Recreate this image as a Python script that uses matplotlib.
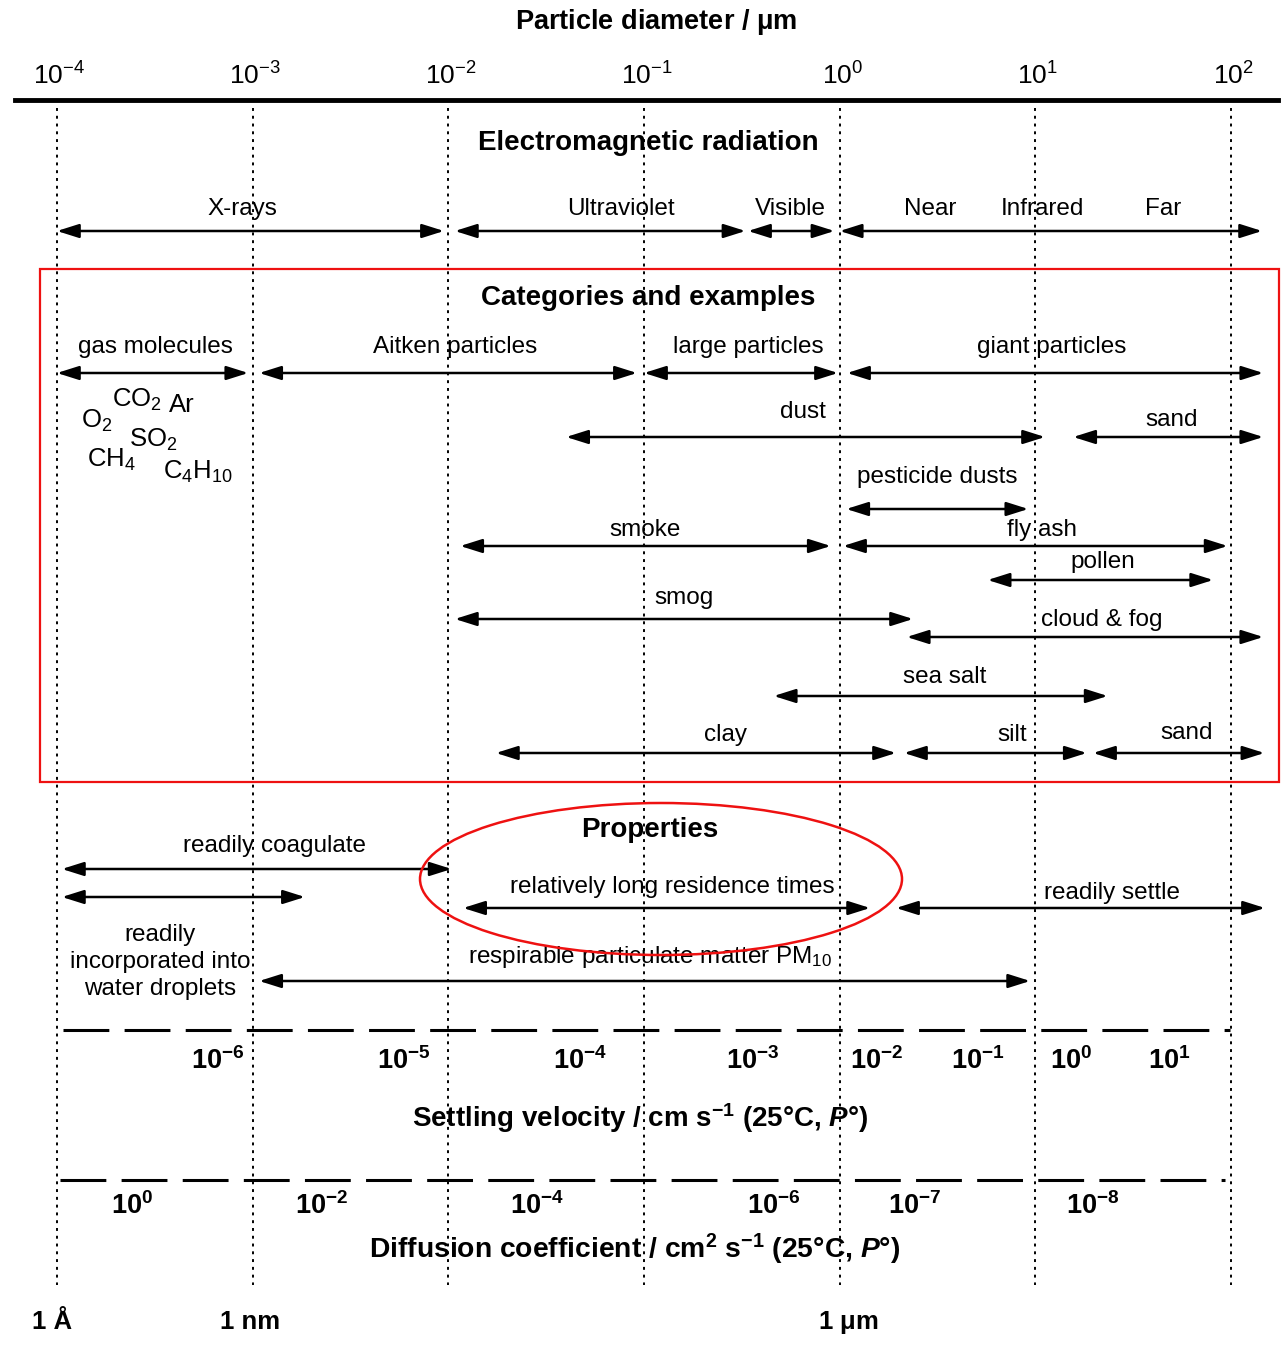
import matplotlib.pyplot as plt
from matplotlib.patches import Rectangle, Ellipse

plt.rcParams['font.family'] = ['Liberation Sans', 'DejaVu Sans']
plt.rcParams['mathtext.fontset'] = 'custom'
plt.rcParams['mathtext.rm'] = 'Liberation Sans'
plt.rcParams['mathtext.it'] = 'Liberation Sans:italic'
plt.rcParams['mathtext.bf'] = 'Liberation Sans:bold'
plt.rcParams['mathtext.bfit'] = 'Liberation Sans:italic:bold'

# --- data (particle diameters in µm) ---
decades = [1e-4, 1e-3, 1e-2, 1e-1, 1e0, 1e1, 1e2]
decade_labels = [r'$10^{-4}$', r'$10^{-3}$', r'$10^{-2}$', r'$10^{-1}$',
                 r'$10^{0}$', r'$10^{1}$', r'$10^{2}$']

# electromagnetic radiation bands
em_lo = [1e-4, 0.0108, 0.34, 1.0]
em_hi = [0.0095, 0.33, 0.94, 144]
em_names = ['X-rays', 'Ultraviolet', 'Visible', 'Near', 'Infrared', 'Far']
em_name_x = [8.9e-4, 0.076, 0.557, 2.89, 10.9, 44.8]

# categories and examples
cat_names = ['gas molecules', 'Aitken particles', 'large particles', 'giant particles',
             'dust', 'sand', 'pesticide dusts', 'smoke', 'fly ash', 'pollen',
             'smog', 'cloud & fog', 'sea salt', 'clay', 'silt', 'sand']
cat_lo = [1e-4, 1.08e-3, 0.10, 1.09, 0.040, 15.6, 1.08, 0.0115, 1.04, 5.7,
          0.0108, 2.2, 0.46, 0.0175, 2.13, 19.7]
cat_hi = [9.5e-4, 0.092, 0.98, 146, 11.2, 146, 9.2, 0.90, 96, 81,
          2.37, 146, 23.4, 1.94, 18.3, 148]
cat_name_x = [3.2e-4, 0.0108, 0.34, 12.1, 0.65, 49.8, 3.14, 0.101, 10.8, 22.1,
              0.16, 21.9, 3.45, 0.26, 7.6, 59.4]

molecules = [r'CO$_2$', 'Ar', r'O$_2$', r'SO$_2$', r'CH$_4$', r'C$_4$H$_{10}$']
molecule_x = [2.55e-4, 4.35e-4, 1.6e-4, 3.1e-4, 1.89e-4, 5.25e-4]

# properties
prop_names = ['readily coagulate', 'readily\nincorporated into\nwater droplets',
              'relatively long residence times', 'readily settle',
              r'respirable particulate matter PM$_{10}$']
prop_lo = [1.06e-4, 1.06e-4, 0.0119, 1.94, 1.08e-3]
prop_hi = [0.0104, 1.85e-3, 1.43, 149, 9.4]
prop_name_x = [1.29e-3, 3.36e-4, 0.14, 24.6, 0.107]

# settling velocity (cm/s) labels placed against diameter
settle_labels = [r'$\mathbf{10^{-6}}$', r'$\mathbf{10^{-5}}$', r'$\mathbf{10^{-4}}$',
                 r'$\mathbf{10^{-3}}$', r'$\mathbf{10^{-2}}$', r'$\mathbf{10^{-1}}$',
                 r'$\mathbf{10^{0}}$', r'$\mathbf{10^{1}}$']
settle_x = [6.65e-4, 5.93e-3, 0.047, 0.36, 1.55, 5.08, 15.2, 48.6]

# diffusion coefficient (cm2/s) labels placed against diameter
diff_labels = [r'$\mathbf{10^{0}}$', r'$\mathbf{10^{-2}}$', r'$\mathbf{10^{-4}}$',
               r'$\mathbf{10^{-6}}$', r'$\mathbf{10^{-7}}$', r'$\mathbf{10^{-8}}$']
diff_x = [2.42e-4, 2.26e-3, 0.0284, 0.461, 2.42, 19.7]

size_marks = ['1 Å', '1 nm', r'1 $\mathbf{\mu}$m']
size_x = [9.4e-5, 9.7e-4, 1.1]

# --- figure ---
fig = plt.figure(figsize=(12.81, 13.54), dpi=100)
ax = fig.add_axes([0, 0, 1, 1])
ax.set_xscale('log')
ax.set_xlim(10 ** -4.291, 10 ** 2.255)
ax.set_ylim(1354, 0)
ax.axis('off')


def arrow(lo, hi, y):
    ax.annotate('', xy=(hi, y), xytext=(lo, y),
                arrowprops=dict(arrowstyle='<|-|>,head_length=0.95,head_width=0.3',
                                mutation_scale=14, color='black', lw=1.8,
                                shrinkA=0, shrinkB=0))


# top axis
ax.text(0.115, 22, r'Particle diameter / $\mathbf{\mu}$m', ha='center', va='center',
        fontsize=19.5, fontweight='bold')
for d, lab in zip(decades, decade_labels):
    ax.text(d * 1.03, 76, lab, ha='center', va='center', fontsize=19)
ax.axhline(100, xmin=15 / 1281, xmax=1278 / 1281, color='black', lw=3.5)
ax.vlines(decades, 108, 1285, colors='black', linestyles=(0, (1.5, 2.5)), lw=1.4)

# electromagnetic radiation
ax.text(0.105, 143, 'Electromagnetic radiation', ha='center', va='center',
        fontsize=20, fontweight='bold')
for lo, hi in zip(em_lo, em_hi):
    arrow(lo, hi, 231)
for name, x in zip(em_names, em_name_x):
    ax.text(x, 209, name, ha='center', va='center', fontsize=17.5)

# categories and examples
ax.text(0.105, 298, 'Categories and examples', ha='center', va='center',
        fontsize=20, fontweight='bold')
cat_arrow_y = [373, 373, 373, 373, 437, 437, 509, 546, 546, 580, 619, 637, 696, 753, 753, 753]
cat_label_y = [347, 347, 347, 347, 412, 420, 477, 530, 530, 562, 598, 620, 677, 735, 735, 733]
for name, lo, hi, x, ya, yl in zip(cat_names, cat_lo, cat_hi, cat_name_x, cat_arrow_y, cat_label_y):
    arrow(lo, hi, ya)
    ax.text(x, yl, name, ha='center', va='center', fontsize=17.5)
molecule_y = [400, 405, 421, 440, 460, 472]
for m, x, y in zip(molecules, molecule_x, molecule_y):
    ax.text(x, y, m, ha='center', va='center', fontsize=18.5)

# properties
ax.text(0.107, 830, 'Properties', ha='center', va='center', fontsize=20, fontweight='bold')
prop_arrow_y = [869, 897, 908, 908, 981]
prop_label_y = [846, 962, 887, 893, 957]
for name, lo, hi, x, ya, yl in zip(prop_names, prop_lo, prop_hi, prop_name_x, prop_arrow_y, prop_label_y):
    arrow(lo, hi, ya)
    ax.text(x, yl, name, ha='center', va='center', fontsize=17.5, linespacing=1.3)

# settling velocity scale
ax.axhline(1030, xmin=63 / 1281, xmax=1230 / 1281, color='black', lw=2.2, dashes=(15, 5))
for lab, x in zip(settle_labels, settle_x):
    ax.text(x, 1061, lab, ha='center', va='center', fontsize=19.5)
ax.text(0.095, 1118, r'Settling velocity / cm s$^{\mathbf{-1}}$ (25°C, $\mathbfit{P}$°)',
        ha='center', va='center', fontsize=20, fontweight='bold')

# diffusion coefficient scale
ax.axhline(1180, xmin=60 / 1281, xmax=1225 / 1281, color='black', lw=2.2, dashes=(15, 5))
for lab, x in zip(diff_labels, diff_x):
    ax.text(x, 1206, lab, ha='center', va='center', fontsize=19.5)
ax.text(0.09, 1249,
        r'Diffusion coefficient / cm$^{\mathbf{2}}$ s$^{\mathbf{-1}}$ (25°C, $\mathbfit{P}$°)',
        ha='center', va='center', fontsize=20.3, fontweight='bold')

# size markers
for lab, x in zip(size_marks, size_x):
    ax.text(x, 1322, lab, ha='center', va='center', fontsize=18.5, fontweight='bold')

# red highlights in pixel space
ov = fig.add_axes([0, 0, 1, 1], frameon=False)
ov.set_xlim(0, 1281)
ov.set_ylim(1354, 0)
ov.axis('off')
ov.add_patch(Rectangle((40, 269), 1239, 513, fill=False, ec='#ee1111', lw=1.6))
ov.add_patch(Ellipse((661, 879), 482, 152, fill=False, ec='#ee1111', lw=1.8))

fig.savefig('out.png', dpi=100)
